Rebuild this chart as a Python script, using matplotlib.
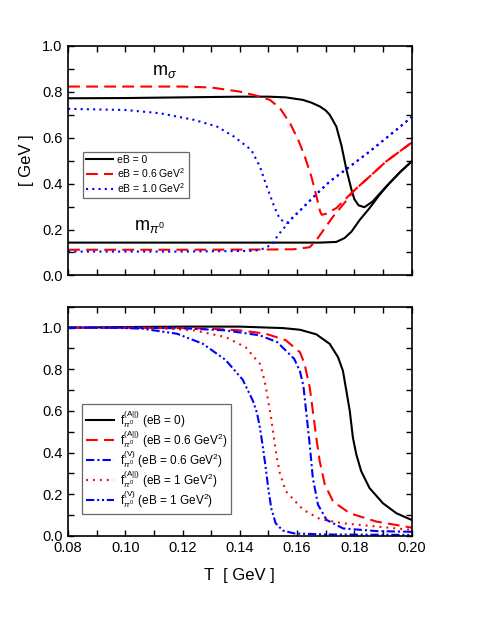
import matplotlib

matplotlib.use("Agg")
import matplotlib.pyplot as plt
from matplotlib.ticker import MultipleLocator

plt.rcParams["font.family"] = ["Liberation Sans", "DejaVu Sans"]
plt.rcParams["mathtext.fontset"] = "custom"
plt.rcParams["mathtext.rm"] = "Liberation Sans"
plt.rcParams["mathtext.it"] = "Liberation Sans:italic"
plt.rcParams["mathtext.bf"] = "Liberation Sans:bold"
plt.rcParams["lines.scale_dashes"] = False

# ---- top panel: sigma and pi0 masses (GeV) vs T (GeV) ----
T_sig_0 = [0.080, 0.100, 0.120, 0.140, 0.150, 0.156, 0.162, 0.165, 0.168, 0.1700, 0.1714, 0.1737,
           0.1755, 0.1772, 0.179, 0.180, 0.1815, 0.1835, 0.1864, 0.1911, 0.1923, 0.196, 0.200]
m_sig_0 = [0.771, 0.772, 0.775, 0.778, 0.778, 0.775, 0.764, 0.752, 0.735, 0.718, 0.699, 0.648,
           0.565, 0.462, 0.373, 0.332, 0.305, 0.297, 0.322, 0.387, 0.402, 0.450, 0.496]
T_pi_0 = [0.080, 0.120, 0.160, 0.168, 0.1737, 0.1766, 0.179, 0.1819, 0.1853, 0.1888, 0.1923, 0.196, 0.200]
m_pi_0 = [0.143, 0.143, 0.143, 0.143, 0.146, 0.163, 0.191, 0.242, 0.293, 0.351, 0.402, 0.450, 0.496]

T_sig_06 = [0.080, 0.100, 0.120, 0.130, 0.140, 0.1465, 0.1505, 0.154, 0.1575, 0.1604, 0.1627,
            0.165, 0.1668, 0.168, 0.1686, 0.170, 0.1737, 0.1795, 0.1853, 0.1911, 0.200]
m_sig_06 = [0.822, 0.822, 0.822, 0.818, 0.800, 0.780, 0.764, 0.728, 0.663, 0.590, 0.517,
            0.430, 0.343, 0.280, 0.264, 0.268, 0.293, 0.365, 0.430, 0.496, 0.578]
T_pi_06 = [0.080, 0.120, 0.150, 0.159, 0.1644, 0.1668, 0.1697, 0.1726, 0.1755, 0.178, 0.1795,
           0.1853, 0.1911, 0.200]
m_pi_06 = [0.112, 0.112, 0.113, 0.114, 0.123, 0.155, 0.206, 0.257, 0.300, 0.338, 0.365,
           0.430, 0.496, 0.578]

T_sig_1 = [0.080, 0.100, 0.112, 0.124, 0.132, 0.138, 0.144, 0.147, 0.149, 0.152, 0.154, 0.1564,
           0.1613, 0.1665, 0.1714, 0.1778, 0.1853, 0.1946, 0.200]
m_sig_1 = [0.725, 0.720, 0.706, 0.677, 0.648, 0.604, 0.546, 0.474, 0.401, 0.300, 0.245, 0.228,
           0.286, 0.351, 0.409, 0.468, 0.539, 0.633, 0.689]
T_pi_1 = [0.080, 0.120, 0.145, 0.149, 0.1516, 0.1534, 0.156, 0.1585, 0.1613, 0.1665, 0.1714,
          0.1778, 0.1853, 0.1946, 0.200]
m_pi_1 = [0.104, 0.104, 0.107, 0.119, 0.141, 0.177, 0.215, 0.252, 0.286, 0.351, 0.409,
          0.468, 0.539, 0.633, 0.689]

# ---- bottom panel: normalized pion decay constants vs T ----
T_fA_0 = [0.080, 0.100, 0.120, 0.140, 0.155, 0.161, 0.1667, 0.1714, 0.1743, 0.176, 0.1772,
          0.1784, 0.1795, 0.1807, 0.1824, 0.1853, 0.190, 0.1947, 0.200]
fA_0 = [1.000, 1.003, 1.005, 1.005, 0.998, 0.990, 0.968, 0.922, 0.858, 0.793, 0.697,
        0.600, 0.471, 0.390, 0.310, 0.229, 0.156, 0.108, 0.076]

T_fA_06 = [0.080, 0.100, 0.120, 0.130, 0.140, 0.149, 0.156, 0.161, 0.1626, 0.1644, 0.1655,
           0.1667, 0.1679, 0.1697, 0.1726, 0.1784, 0.1877, 0.200]
fA_06 = [1.000, 1.000, 0.998, 0.995, 0.987, 0.971, 0.940, 0.882, 0.826, 0.713, 0.600,
         0.471, 0.358, 0.245, 0.164, 0.108, 0.068, 0.039]

T_fV_06 = [0.080, 0.100, 0.120, 0.135, 0.147, 0.153, 0.159, 0.161, 0.1622, 0.1633, 0.1644,
           0.1655, 0.1673, 0.1703, 0.1761, 0.188, 0.200]
fV_06 = [1.000, 1.000, 0.997, 0.987, 0.963, 0.931, 0.850, 0.790, 0.720, 0.580, 0.439,
         0.277, 0.149, 0.076, 0.035, 0.022, 0.019]

T_fA_1 = [0.080, 0.100, 0.112, 0.124, 0.135, 0.142, 0.147, 0.148, 0.149, 0.150, 0.151, 0.152,
          0.153, 0.154, 0.156, 0.162, 0.168, 0.176, 0.200]
fA_1 = [1.000, 1.000, 0.997, 0.987, 0.955, 0.906, 0.826, 0.780, 0.720, 0.640, 0.560, 0.460,
        0.370, 0.300, 0.215, 0.126, 0.080, 0.060, 0.028]

T_fV_1 = [0.080, 0.095, 0.106, 0.118, 0.127, 0.135, 0.141, 0.1445, 0.146, 0.147, 0.148, 0.149,
          0.150, 0.151, 0.1525, 0.155, 0.159, 0.170, 0.200]
fV_1 = [1.000, 1.000, 0.995, 0.971, 0.923, 0.845, 0.750, 0.650, 0.590, 0.520, 0.430, 0.330,
        0.220, 0.130, 0.060, 0.025, 0.011, 0.006, 0.004]

top_labels = ["eB = 0", "eB = 0.6 GeV$^2$", "eB = 1.0 GeV$^2$"]
bot_labels = [
    r"f$_{\pi^0}^{(\mathrm{A||})}$ (eB = 0)",
    r"f$_{\pi^0}^{(\mathrm{A||})}$ (eB = 0.6 GeV$^2$)",
    r"f$_{\pi^0}^{(\mathrm{V})}$ (eB = 0.6 GeV$^2$)",
    r"f$_{\pi^0}^{(\mathrm{A||})}$ (eB = 1 GeV$^2$)",
    r"f$_{\pi^0}^{(\mathrm{V})}$ (eB = 1 GeV$^2$)",
]

RED = "#ff0000"
BLUE = "#0000ff"
LW = 1.5
DASH = (0, (8.5, 4.5))
DOT = (0, (1.5, 3.0))
DOT_R = (0, (1.4, 3.6))
DASHDOT = (0, (6.0, 2.2, 1.5, 2.2))
DASHDOTDOT = (0, (6.0, 2.0, 1.5, 2.0, 1.5, 2.0))


def style_axes(ax, ylim):
    ax.set_xlim(0.08, 0.20)
    ax.set_ylim(*ylim)
    ax.xaxis.set_major_locator(MultipleLocator(0.02))
    ax.xaxis.set_minor_locator(MultipleLocator(0.01))
    ax.yaxis.set_major_locator(MultipleLocator(0.2))
    ax.yaxis.set_minor_locator(MultipleLocator(0.1))
    ax.tick_params(which="both", direction="in", top=True, right=True,
                   length=4, width=1.0, labelsize=10.5, pad=4)
    for sp in ax.spines.values():
        sp.set_linewidth(1.2)


fig = plt.figure(figsize=(4.9, 6.34), dpi=100)
ax1 = fig.add_axes([0.139, 0.5655, 0.701, 0.3625])
ax2 = fig.add_axes([0.139, 0.155, 0.701, 0.361])

# top panel
h0, = ax1.plot(T_sig_0, m_sig_0, color="black", lw=LW)
ax1.plot(T_pi_0, m_pi_0, color="black", lw=LW)
h1, = ax1.plot(T_sig_06, m_sig_06, color=RED, lw=LW, linestyle=DASH)
ax1.plot(T_pi_06, m_pi_06, color=RED, lw=LW, linestyle=DASH)
h2, = ax1.plot(T_sig_1, m_sig_1, color=BLUE, lw=LW, linestyle=DOT)
ax1.plot(T_pi_1, m_pi_1, color=BLUE, lw=LW, linestyle=DOT)
style_axes(ax1, (0.0, 1.0))
ax1.tick_params(labelbottom=False)
ax1.set_ylabel("[ GeV ]", fontsize=12, labelpad=6)
ax1.text(0.1092, 0.873, r"m$_\sigma$", fontsize=13)
ax1.text(0.1030, 0.199, r"m$_{\pi^0}$", fontsize=13)
leg1 = ax1.legend([h0, h1, h2], top_labels, loc="upper left", bbox_to_anchor=(0.043, 0.538),
                  fontsize=7.5, fancybox=False, handlelength=2.6, labelspacing=0.12,
                  borderpad=0.3, handletextpad=0.4, borderaxespad=0)
leg1.get_frame().set_edgecolor("#444444")
leg1.get_frame().set_linewidth(0.9)

# bottom panel
g0, = ax2.plot(T_fA_0, fA_0, color="black", lw=LW)
g1, = ax2.plot(T_fA_06, fA_06, color=RED, lw=LW, linestyle=DASH)
g2, = ax2.plot(T_fV_06, fV_06, color=BLUE, lw=LW, linestyle=DASHDOT)
g3, = ax2.plot(T_fA_1, fA_1, color=RED, lw=LW, linestyle=DOT_R)
g4, = ax2.plot(T_fV_1, fV_1, color=BLUE, lw=LW, linestyle=DASHDOTDOT)
style_axes(ax2, (0.0, 1.1))
ax2.set_xlabel("T  [ GeV ]", fontsize=12, labelpad=9)
leg2 = ax2.legend([g0, g1, g2, g3, g4], bot_labels, loc="upper left",
                  bbox_to_anchor=(0.039, 0.575), fontsize=8.5, fancybox=False,
                  handlelength=2.4, labelspacing=-0.15, borderpad=0.35,
                  handletextpad=0.5, borderaxespad=0)
leg2.get_frame().set_edgecolor("#444444")
leg2.get_frame().set_linewidth(0.9)

fig.savefig("out.png", dpi=100)
